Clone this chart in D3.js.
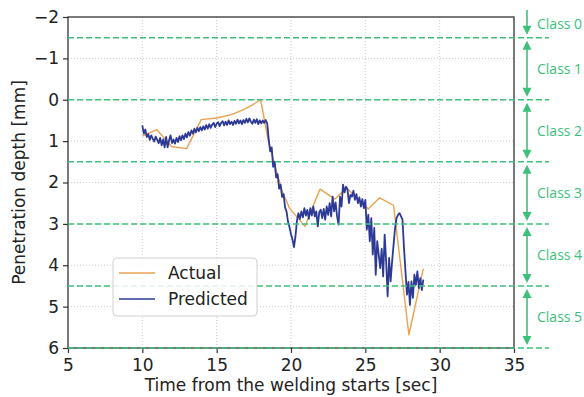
<!DOCTYPE html>
<html>
<head>
<meta charset="utf-8">
<script src="https://cdn.jsdelivr.net/npm/d3@7"></script>
<style>
  body { margin: 0; background: #fff; }
  svg { display: block; }
</style>
</head>
<body>
<svg id="chart" width="584" height="397"></svg>
<script>
// Axis ticks
const xTicks = [5, 10, 15, 20, 25, 30, 35];
const yTicks = [-2, -1, 0, 1, 2, 3, 4, 5, 6];

// Measured penetration depth (mm) at measurement times (s)
const actualTime  = [10.0, 10.96, 11.97, 12.98, 13.96, 15.0, 16.0, 16.8, 17.3, 17.96, 18.45, 19.0, 19.4, 19.9, 20.94, 21.95, 22.96, 23.74, 25.2, 25.96, 26.9, 27.93, 28.9];
const actualDepth = [0.88, 0.72, 1.13, 1.18, 0.48, 0.44, 0.36, 0.24, 0.15, 0.0, 0.95, 1.70, 2.20, 2.62, 3.06, 2.16, 2.40, 2.13, 2.64, 2.37, 2.55, 5.68, 4.08];

// Model prediction, sampled every 0.1 s starting at 10 s
const predictedStart = 10.0;
const predictedStep = 0.1;
const predictedDepth = [
  0.62, 0.82, 0.72, 0.90, 0.83, 0.97, 0.86, 0.94, 1.01, 0.89, 0.97,
  1.05, 0.92, 1.10, 0.96, 1.15, 0.90, 1.15, 0.98, 0.86, 1.05,
  0.96, 1.06, 0.92, 1.02, 0.88, 0.98, 0.86, 0.95, 0.82, 0.91,
  0.78, 0.87, 0.74, 0.82, 0.70, 0.79, 0.68, 0.76, 0.66, 0.74,
  0.64, 0.72, 0.61, 0.70, 0.59, 0.68, 0.60, 0.56, 0.66, 0.58,
  0.54, 0.64, 0.56, 0.52, 0.62, 0.53, 0.61, 0.50, 0.59, 0.53,
  0.61, 0.51, 0.58, 0.48, 0.57, 0.50, 0.59, 0.49, 0.56, 0.46,
  0.55, 0.45, 0.53, 0.58, 0.48, 0.56, 0.47, 0.59, 0.50, 0.57,
  0.50, 0.56, 0.49, 0.57, 0.95, 1.25, 1.15, 1.62, 1.50, 1.88,
  1.80, 2.15, 2.05, 2.35, 2.28, 2.60, 2.70, 2.95, 3.08, 3.25,
  3.38, 3.56, 3.30, 2.92, 2.74, 2.88, 2.70, 2.84, 2.62, 2.80,
  2.66, 2.88, 2.62, 2.80, 2.58, 2.82, 2.70, 3.06, 2.72, 2.66,
  2.86, 2.64, 2.90, 2.58, 2.78, 2.50, 2.82, 2.34, 2.70, 2.48,
  2.82, 3.02, 2.34, 2.58, 2.05, 2.24, 2.10, 2.17, 2.50, 2.30,
  2.34, 2.20, 2.42, 2.28, 2.50, 2.36, 2.58, 2.40, 2.62, 2.42,
  3.14, 2.78, 3.42, 2.86, 3.74, 3.10, 4.23, 3.42, 3.74, 4.07,
  3.60, 4.27, 3.26, 3.91, 4.75, 3.82, 4.39, 3.91, 3.50, 3.10,
  2.86, 2.78, 2.74, 2.82, 2.90, 3.58, 4.15, 4.71, 4.40, 4.96,
  4.39, 4.79, 4.23, 4.47, 4.15, 4.55, 4.31, 4.60, 4.35
];

// Depth classes and their boundaries (mm)
const classNames = ["Class 0", "Class 1", "Class 2", "Class 3", "Class 4", "Class 5"];
const classEdges = [-1.5, 0, 1.5, 3, 4.5, 6];

const colors = {
  actual: "#eba24f",
  predicted: "#2c3996",
  cls: "#3cc17b",
  grid: "#bdbdbd",
  axis: "#333333",
  text: "#222222"
};
const tickFont = "'DejaVu Sans', sans-serif";

const svg = d3.select("#chart");
const plot = { left: 68, right: 514, top: 17, bottom: 348 };

const x = d3.scaleLinear().domain([5, 35]).range([plot.left, plot.right]);
const y = d3.scaleLinear().domain([-2, 6]).range([plot.top, plot.bottom]);

svg.append("rect").attr("width", 584).attr("height", 397).attr("fill", "#fff");

// Dotted grid
const grid = svg.append("g");
grid.selectAll("line.gx").data(xTicks.slice(1, -1)).join("line")
  .attr("x1", d => x(d)).attr("x2", d => x(d))
  .attr("y1", plot.top).attr("y2", plot.bottom)
  .attr("stroke", colors.grid).attr("stroke-width", 0.8).attr("stroke-dasharray", "1,2");
grid.selectAll("line.gy").data(yTicks.slice(1, -1)).join("line")
  .attr("y1", d => y(d)).attr("y2", d => y(d))
  .attr("x1", plot.left).attr("x2", plot.right)
  .attr("stroke", colors.grid).attr("stroke-width", 0.8).attr("stroke-dasharray", "1,2");

// Series
const actualPts = actualTime.map((t, i) => [t, actualDepth[i]]);
const predictedPts = predictedDepth.map((d, i) => [predictedStart + i * predictedStep, d]);
const line = d3.line().x(d => x(d[0])).y(d => y(d[1]));

svg.append("path").datum(actualPts)
  .attr("d", line).attr("fill", "none")
  .attr("stroke", colors.actual).attr("stroke-width", 1.4).attr("stroke-linejoin", "round");
svg.append("path").datum(predictedPts)
  .attr("d", line).attr("fill", "none")
  .attr("stroke", colors.predicted).attr("stroke-width", 1.8).attr("stroke-linejoin", "round");

// Axes
const xAxis = d3.axisBottom(x).tickValues(xTicks).tickFormat(d3.format("d")).tickSize(5).tickPadding(6);
const yAxis = d3.axisLeft(y).tickValues(yTicks).tickFormat(d => d < 0 ? "\u2212" + Math.abs(d) : String(d)).tickSize(5).tickPadding(4);

const gx = svg.append("g").attr("transform", `translate(0,${plot.bottom})`).call(xAxis);
const gy = svg.append("g").attr("transform", `translate(${plot.left},0)`).call(yAxis);
[gx, gy].forEach(g => {
  g.select(".domain").remove();
  g.selectAll(".tick line").attr("stroke", colors.axis).attr("stroke-width", 1.2);
  g.selectAll(".tick text").attr("fill", colors.text).style("font-family", tickFont).style("font-size", "17px");
});

// Frame
svg.append("rect")
  .attr("x", plot.left).attr("y", plot.top)
  .attr("width", plot.right - plot.left).attr("height", plot.bottom - plot.top)
  .attr("fill", "none").attr("stroke", colors.axis).attr("stroke-width", 1.3);

// Class boundaries
svg.append("g").selectAll("line").data(classEdges).join("line")
  .attr("x1", plot.left).attr("x2", 549)
  .attr("y1", d => y(d)).attr("y2", d => y(d))
  .attr("stroke", colors.cls).attr("stroke-width", 1.5).attr("stroke-dasharray", "6,3");

// Class arrows and labels
const arrowX = 527;
const gap = 3, headLen = 9, headHalf = 4.5;
const cls = svg.append("g");
classNames.forEach((name, i) => {
  const y0 = i === 0 ? plot.top - 7 : y(classEdges[i - 1]) + gap;
  const y1 = y(classEdges[i]) - gap;
  const upHead = i > 0;
  cls.append("line")
    .attr("x1", arrowX).attr("x2", arrowX)
    .attr("y1", upHead ? y0 + headLen - 1 : y0).attr("y2", y1 - headLen + 1)
    .attr("stroke", colors.cls).attr("stroke-width", 1.6);
  cls.append("path")
    .attr("d", `M${arrowX},${y1} L${arrowX - headHalf},${y1 - headLen} L${arrowX + headHalf},${y1 - headLen} Z`)
    .attr("fill", colors.cls);
  if (upHead) {
    cls.append("path")
      .attr("d", `M${arrowX},${y0} L${arrowX - headHalf},${y0 + headLen} L${arrowX + headHalf},${y0 + headLen} Z`)
      .attr("fill", colors.cls);
  }
  const mid = i === 0 ? (plot.top - 7 + y(classEdges[0])) / 2 : (y(classEdges[i - 1]) + y(classEdges[i])) / 2;
  cls.append("text")
    .attr("x", 537).attr("y", mid).attr("dy", "0.35em")
    .attr("fill", colors.cls)
    .style("font-family", "'Open Sans', sans-serif").style("font-size", "14px")
    .text(name);
});

// Axis titles
svg.append("text")
  .attr("x", (plot.left + plot.right) / 2).attr("y", 391)
  .attr("text-anchor", "middle").attr("fill", colors.text)
  .style("font-family", tickFont).style("font-size", "17px")
  .text("Time from the welding starts [sec]");
svg.append("text")
  .attr("transform", `translate(25,${(plot.top + plot.bottom) / 2}) rotate(-90)`)
  .attr("text-anchor", "middle").attr("fill", colors.text)
  .style("font-family", tickFont).style("font-size", "17px")
  .text("Penetration depth [mm]");

// Legend
const legend = svg.append("g").attr("transform", "translate(113,258)");
legend.append("rect")
  .attr("width", 144).attr("height", 58).attr("rx", 4)
  .attr("fill", "#fff").attr("fill-opacity", 0.85)
  .attr("stroke", "#d0d0d0").attr("stroke-width", 1);
const legendItems = [
  { label: "Actual", color: colors.actual },
  { label: "Predicted", color: colors.predicted }
];
legendItems.forEach((item, i) => {
  const ly = 15 + i * 26;
  legend.append("line")
    .attr("x1", 6).attr("x2", 42).attr("y1", ly).attr("y2", ly)
    .attr("stroke", item.color).attr("stroke-width", 1.5);
  legend.append("text")
    .attr("x", 55).attr("y", ly).attr("dy", "0.35em")
    .attr("fill", colors.text)
    .style("font-family", tickFont).style("font-size", "17px")
    .text(item.label);
});
</script>
</body>
</html>
